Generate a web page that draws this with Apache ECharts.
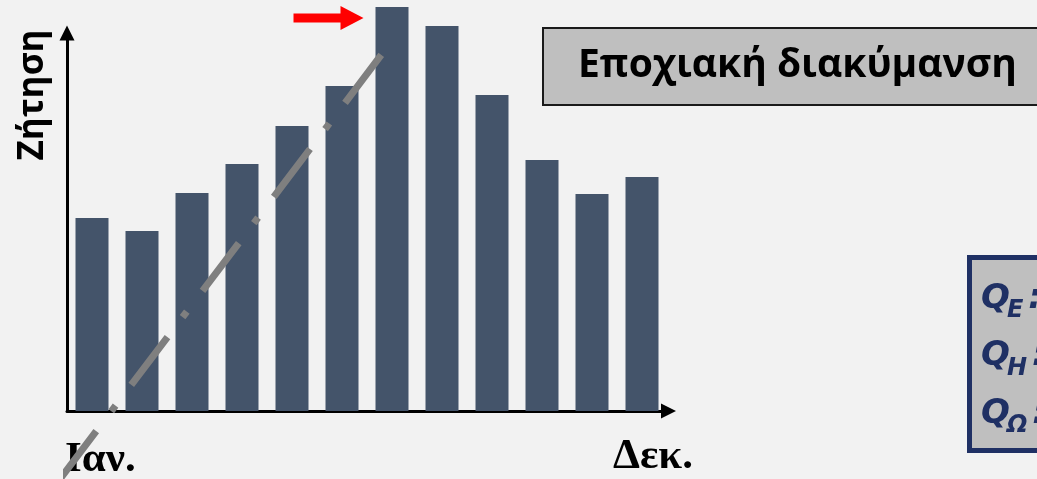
<!DOCTYPE html>
<html>
<head>
<meta charset="utf-8">
<script src="https://cdn.jsdelivr.net/npm/echarts@6/dist/echarts.min.js"></script>
<style>
  html, body { margin: 0; padding: 0; background: #f2f2f2; }
  #chart { width: 1037px; height: 479px; }
</style>
</head>
<body>
<div id="chart"></div>
<script>
// Monthly demand across one year
const months = ['Ιαν.', 'Φεβ.', 'Μαρ.', 'Απρ.', 'Μάι.', 'Ιούν.', 'Ιούλ.', 'Αύγ.', 'Σεπ.', 'Οκτ.', 'Νοέ.', 'Δεκ.'];
const demand = [48.25, 45, 54.5, 61.75, 71.25, 81.25, 101, 96.25, 79, 62.75, 54.25, 58.5];

// Rising trend drawn across the first half of the year (month position, demand)
const trendLine = [[-0.14, -17], [6.36, 90.25]];

// Texts
const yAxisTitle = 'Ζήτηση';
const firstMonthLabel = 'Ιαν.';
const lastMonthLabel = 'Δεκ.';
const titleText = 'Εποχιακή διακύμανση';
const quantityIndices = ['E', 'H', 'Ω'];

const BAR_COLOR = '#44546a';
const NAVY = '#1f3064';
const BAR_WIDTH = 33;

const chart = echarts.init(document.getElementById('chart'), null, { renderer: 'canvas' });

const measureCtx = document.createElement('canvas').getContext('2d');
function textWidth(str, font) {
  measureCtx.font = font;
  return measureCtx.measureText(str).width;
}

const axisLineStyle = { color: '#000', width: 3 };

chart.setOption({
  backgroundColor: '#f2f2f2',
  animation: false,
  grid: { left: 67, right: 370, top: 33, bottom: 68, containLabel: false },
  xAxis: [
    {
      type: 'category',
      data: months,
      boundaryGap: true,
      axisLine: {
        show: true,
        lineStyle: axisLineStyle,
        symbol: ['none', 'triangle'],
        symbolSize: [15, 15],
        symbolOffset: [0, 1.5]
      },
      axisTick: { show: false },
      axisLabel: { show: false },
      splitLine: { show: false }
    },
    {
      type: 'value',
      min: 0,
      max: 12,
      show: false
    }
  ],
  yAxis: {
    type: 'value',
    min: 0,
    max: 94.5,
    axisLine: {
      show: true,
      lineStyle: axisLineStyle,
      symbol: ['none', 'triangle'],
      symbolSize: [15, 15]
    },
    axisTick: { show: false },
    axisLabel: { show: false },
    splitLine: { show: false }
  },
  series: [
    {
      type: 'bar',
      xAxisIndex: 0,
      data: demand,
      barWidth: BAR_WIDTH,
      clip: false,
      itemStyle: { color: BAR_COLOR },
      z: 2
    },
    {
      type: 'line',
      xAxisIndex: 1,
      data: trendLine,
      showSymbol: false,
      clip: false,
      lineStyle: {
        color: '#7f7f7f',
        width: 7,
        type: [60, 25, 7, 26],
        cap: 'butt'
      },
      z: 3
    }
  ]
});

// Red pointer at the peak month, positioned from the bar itself
const peakIndex = demand.indexOf(Math.max(...demand));
const peakTop = chart.convertToPixel({ xAxisIndex: 0, yAxisIndex: 0 }, [peakIndex, demand[peakIndex]]);
const tipX = peakTop[0] - BAR_WIDTH / 2 - 12;
const tipY = peakTop[1] + 11;
const pointer = [
  [tipX - 70, tipY - 4.5], [tipX - 23, tipY - 4.5], [tipX - 23, tipY - 12],
  [tipX, tipY], [tipX - 23, tipY + 12], [tipX - 23, tipY + 4.5], [tipX - 70, tipY + 4.5]
];

// Block of quantities Q with subscripts
const qFont = 'italic bold 34px "DejaVu Sans"';
const subFont = 'italic bold 24px "DejaVu Sans"';
const qX = 981;
const qRows = [];
quantityIndices.forEach(function (idx, r) {
  const cy = 299 + 57.5 * r;
  const wQ = textWidth('Q', qFont);
  const wSub = textWidth(idx, subFont);
  qRows.push(
    { type: 'text', x: qX, y: cy, z: 21, style: { text: 'Q', font: qFont, fill: NAVY, align: 'left', verticalAlign: 'middle' } },
    { type: 'text', x: qX + wQ - 3, y: cy + 12, z: 21, style: { text: idx, font: subFont, fill: NAVY, align: 'left', verticalAlign: 'middle' } },
    { type: 'text', x: qX + wQ + wSub + 2, y: cy, z: 21, style: { text: ':', font: qFont, fill: NAVY, align: 'left', verticalAlign: 'middle' } }
  );
});

chart.setOption({
  graphic: [
    // title box
    { type: 'rect', z: 20, shape: { x: 543, y: 28, width: 540, height: 77 },
      style: { fill: '#bfbfbf', stroke: '#1a1a1a', lineWidth: 2 } },
    { type: 'text', x: 578, y: 66, z: 21,
      style: { text: titleText, font: 'bold 39px "Open Sans"', fill: '#000', align: 'left', verticalAlign: 'middle' } },
    // quantity box
    { type: 'rect', z: 20, shape: { x: 969.5, y: 257.5, width: 200, height: 193 },
      style: { fill: '#bfbfbf', stroke: NAVY, lineWidth: 5 } },
    ...qRows,
    // axis texts
    { type: 'text', x: 33, y: 95, rotation: Math.PI / 2, z: 21,
      style: { text: yAxisTitle, font: 'bold 35px "Open Sans"', fill: '#000', align: 'center', verticalAlign: 'middle' } },
    { type: 'text', x: 65, y: 460, z: 1,
      style: { text: firstMonthLabel, font: 'bold 43px "Liberation Serif"', fill: '#000', align: 'left', verticalAlign: 'middle' } },
    { type: 'text', x: 613, y: 457, z: 1,
      style: { text: lastMonthLabel, font: 'bold 43px "Liberation Serif"', fill: '#000', align: 'left', verticalAlign: 'middle' } },
    // pointer
    { type: 'polygon', z: 21, shape: { points: pointer }, style: { fill: '#ff0000' } }
  ]
});
</script>
</body>
</html>
